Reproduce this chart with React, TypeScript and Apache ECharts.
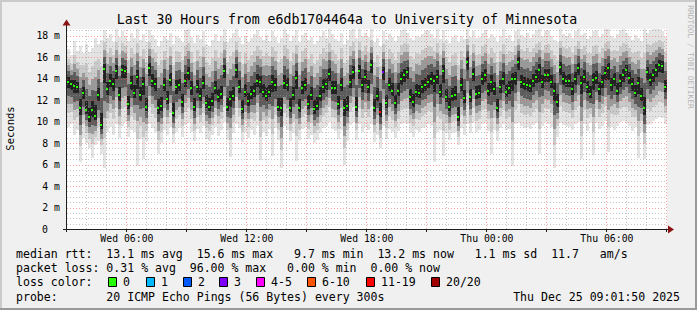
import React, { useEffect, useRef } from 'react';
import * as echarts from 'echarts';

// ---- time base (hours since Wed 00:00) ----
const START_HOUR = 3 + 1 / 60 + 50 / 3600; // Wed 03:01:50
const SPAN_HOURS = 30;
const STEP_HOURS = 0.15; // 9-minute columns
const Y_MAX = 18.63;

// ---- data (ms) ----
const medianRtt = [
  13.7, 13.5, 13.3, 13.2, 11.3, 12.7, 11.1, 10.4, 11.1, 10.5,
  12.5, 9.7, 14.9, 13.0, 13.8, 13.5, 14.7, 12.5, 14.8, 14.7,
  11.6, 13.6, 12.7, 14.2, 12.5, 13.5, 11.4, 15.0, 13.8, 13.5,
  11.3, 11.5, 13.4, 12.1, 13.9, 10.8, 13.2, 13.4, 11.8, 13.8,
  14.5, 13.1, 11.4, 13.2, 12.4, 13.6, 11.7, 11.4, 11.9, 13.1,
  12.3, 12.6, 14.7, 11.4, 12.1, 12.4, 14.8, 13.2, 11.2, 12.8,
  11.9, 12.6, 12.9, 13.8, 13.7, 12.8, 12.4, 12.8, 13.7, 13.4,
  11.4, 11.3, 13.6, 13.4, 11.3, 12.5, 14.1, 11.3, 13.1, 13.4,
  11.6, 12.5, 11.2, 11.5, 12.4, 13.2, 13.5, 14.4, 13.1, 13.1,
  11.6, 13.4, 11.3, 11.5, 13.7, 14.6, 11.4, 14.7, 13.4, 14.2,
  13.2, 15.3, 11.3, 12.4, 10.9, 14.6, 11.7, 13.4, 12.9, 11.7,
  12.9, 14.0, 14.3, 14.6, 12.3, 11.8, 12.8, 12.7, 13.2, 13.4,
  13.7, 14.0, 13.8, 14.2, 12.8, 14.7, 12.3, 11.4, 12.4, 12.5,
  10.4, 13.4, 12.2, 15.6, 12.3, 14.4, 12.6, 12.7, 14.0, 14.3,
  12.9, 13.7, 13.0, 11.3, 13.2, 14.0, 12.8, 13.1, 14.0, 14.0,
  15.6, 13.7, 13.5, 13.4, 13.3, 13.8, 14.2, 14.8, 13.7, 14.3,
  14.3, 13.7, 12.9, 11.8, 15.1, 14.0, 13.8, 13.8, 13.0, 14.0,
  15.0, 13.6, 14.2, 13.2, 12.6, 13.9, 14.1, 13.0, 13.7, 14.5,
  15.0, 13.4, 14.0, 12.9, 13.8, 14.3, 14.8, 14.1, 13.5, 12.7,
  13.6, 12.4, 11.3, 14.6, 13.9, 14.3, 14.8, 15.3, 15.2, 13.2,
];

const smokeLow = [
  9.5, 9.8, 8.8, 9.2, 6.2, 8.5, 8.0, 7.5, 6.6, 7.8,
  8.2, 7.0, 5.7, 9.0, 9.5, 8.8, 9.8, 8.5, 9.6, 10.0,
  8.6, 9.2, 9.0, 5.9, 8.4, 6.5, 8.2, 9.8, 9.4, 9.0,
  7.0, 8.0, 9.2, 8.8, 9.5, 8.0, 9.0, 9.4, 8.6, 9.7,
  9.9, 9.0, 8.2, 9.3, 8.9, 9.6, 8.4, 8.2, 8.8, 9.5,
  8.7, 9.2, 10.0, 8.3, 6.7, 8.9, 9.8, 9.4, 8.1, 9.0,
  8.5, 9.2, 8.8, 9.6, 6.4, 9.0, 8.7, 9.3, 6.8, 9.4,
  8.3, 5.7, 9.6, 9.2, 8.2, 8.9, 6.3, 8.3, 9.3, 9.5,
  8.4, 8.8, 8.0, 8.3, 8.9, 9.4, 9.6, 10.0, 9.3, 9.1,
  8.4, 9.2, 6.0, 8.2, 9.7, 10.0, 8.3, 9.8, 9.0, 9.5,
  9.2, 9.8, 8.1, 8.8, 7.5, 9.6, 8.4, 9.3, 9.0, 8.5,
  9.1, 9.8, 9.9, 9.8, 8.9, 8.6, 9.2, 9.0, 9.4, 9.5,
  9.8, 9.6, 6.2, 9.0, 9.2, 6.8, 8.9, 8.3, 8.9, 9.0,
  7.8, 9.4, 8.8, 9.8, 8.9, 9.9, 9.0, 9.2, 9.8, 9.9,
  9.1, 7.0, 9.2, 8.2, 9.4, 9.8, 9.2, 9.3, 5.9, 9.8,
  9.9, 9.6, 9.4, 9.5, 9.3, 9.7, 9.9, 7.0, 9.6, 10.0,
  9.8, 9.5, 5.7, 8.6, 9.9, 9.7, 9.6, 9.5, 9.2, 9.8,
  10.0, 6.5, 9.8, 9.1, 9.9, 6.9, 9.9, 9.3, 9.6, 10.1,
  7.2, 9.5, 9.2, 9.6, 10.0, 10.1, 9.9, 9.6, 9.1, 9.5,
  6.6, 9.0, 6.5, 9.7, 9.8, 10.1, 10.2, 10.4, 10.3, 9.8,
];

const smokeHigh = [
  16.8, 16.2, 17.5, 16.6, 17.0, 16.4, 17.2, 16.5, 16.9, 17.8,
  17.2, 17.6, 18.5, 17.8, 18.2, 17.4, 18.6, 17.9, 18.4, 18.0,
  17.5, 18.3, 17.8, 18.6, 17.6, 18.2, 17.4, 18.5, 18.1, 17.7,
  17.0, 17.5, 18.0, 17.6, 18.3, 17.2, 18.0, 17.8, 17.4, 18.5,
  18.6, 17.9, 17.3, 18.1, 17.7, 18.4, 17.2, 17.0, 17.6, 18.2,
  17.5, 18.0, 18.6, 17.4, 17.8, 18.3, 18.6, 17.9, 17.2, 18.0,
  17.4, 17.8, 18.2, 18.5, 17.9, 17.6, 18.1, 17.5, 18.4, 17.9,
  17.3, 17.8, 18.6, 18.2, 17.5, 18.0, 18.5, 17.4, 18.1, 18.3,
  17.6, 17.9, 17.2, 17.5, 18.0, 18.4, 17.8, 18.6, 18.2, 17.7,
  17.5, 18.3, 17.2, 17.6, 18.5, 18.6, 17.8, 18.6, 18.0, 18.3,
  17.9, 18.6, 17.4, 17.8, 17.0, 18.4, 17.6, 18.2, 17.9, 17.5,
  18.0, 18.5, 18.6, 18.3, 17.8, 17.6, 18.0, 17.9, 18.2, 18.4,
  18.5, 18.2, 17.8, 18.6, 17.7, 18.5, 17.6, 17.3, 17.9, 18.1,
  17.4, 18.0, 17.7, 18.6, 17.9, 18.4, 17.8, 17.9, 18.3, 18.5,
  17.8, 18.2, 17.9, 17.4, 18.0, 18.6, 17.8, 18.1, 17.5, 18.4,
  18.6, 18.1, 17.9, 18.3, 17.8, 18.2, 18.5, 18.6, 18.0, 18.4,
  18.5, 18.0, 17.6, 17.4, 18.6, 18.2, 18.0, 18.3, 17.8, 18.4,
  18.6, 18.1, 18.3, 17.7, 18.0, 18.4, 18.5, 17.9, 18.2, 18.6,
  18.6, 18.0, 17.8, 18.2, 18.5, 18.6, 18.3, 18.0, 17.6, 18.1,
  17.8, 17.5, 18.6, 18.3, 18.5, 18.6, 18.6, 18.6, 18.4, 17.9,
];

// loss events: column index -> loss colour level
const lossEventIndex = [104, 105];
const lossEventLevel = [6, 3];

const lossLabels = ['0', '1', '2', '3', '4-5', '6-10', '11-19', '20/20'];
const lossColors = ['#26ff00', '#00b8ff', '#0059ff', '#7e00ff', '#ff00ff', '#ff5500', '#ff0000', '#a10000'];

const timeLabelHours = [6, 12, 18, 24, 30];
const timeLabels = ['Wed 06:00', 'Wed 12:00', 'Wed 18:00', 'Thu 00:00', 'Thu 06:00'];
const majorGridHours = [6, 9, 12, 15, 18, 21, 24, 27, 30, 33];
const minorGridHours = [4, 5, 7, 8, 10, 11, 13, 14, 16, 17, 19, 20, 22, 23, 25, 26, 28, 29, 31, 32];
const majorGridMs = [2, 4, 6, 8, 10, 12, 14, 16, 18];
const minorGridMs = [0.5, 1, 1.5, 2.5, 3, 3.5, 4.5, 5, 5.5, 6.5, 7, 7.5, 8.5, 9, 9.5, 10.5, 11, 11.5, 12.5, 13, 13.5, 14.5, 15, 15.5, 16.5, 17, 17.5, 18.5];

const rttStats = ['13.1', '15.6', '9.7', '13.2', '1.1', '11.7'];
const lossStats = ['0.31', '96.00', '0.00', '0.00'];
const probeText = '20 ICMP Echo Pings (56 Bytes) every 300s';
const dateText = 'Thu Dec 25 09:01:50 2025';
const titleText = 'Last 30 Hours from e6db1704464a to University of Minnesota';

// ---- styling ----
const FONT = 'DejaVu Sans Mono';
const SMOKE_FRACTIONS = [1, 0.7, 0.5, 0.32, 0.14];
const SMOKE_SHADES = ['#e3e3e3', '#c9c9c9', '#9a9a9a', '#5c5c5c', '#222222'];
const CW = 6.95;
const LEG_X = 16;
const legendBoxX = [108, 146, 183, 219, 256, 307, 366, 431];
const MAJOR_GRID = 'rgba(255,70,70,0.5)';
const MINOR_GRID = 'rgba(150,150,150,0.55)';

function monoSegments(line: string, y: number) {
  const out: any[] = [];
  const re = /\S+(?: \S+)*/g;
  let m: RegExpExecArray | null;
  while ((m = re.exec(line))) {
    out.push({
      type: 'text',
      x: LEG_X + m.index * CW,
      y,
      style: { text: m[0], fontFamily: FONT, fontSize: 11.55, fill: '#000', verticalAlign: 'middle' },
    });
  }
  return out;
}

export default function App() {
  const ref = useRef<HTMLDivElement>(null);
  useEffect(() => {
    const chart = echarts.init(ref.current!, null, { renderer: 'svg' });

    const smokeData = medianRtt.map((m, i) => [START_HOUR + i * STEP_HOURS, smokeLow[i], m, smokeHigh[i]]);
    const dotData = medianRtt.map((m, i) => {
      const k = lossEventIndex.indexOf(i);
      return [START_HOUR + i * STEP_HOURS, m, k >= 0 ? lossEventLevel[k] : 0];
    });

    const legendLines = [
      `median rtt:  ${rttStats[0]} ms avg  ${rttStats[1]} ms max   ${rttStats[2]} ms min  ${rttStats[3]} ms now   ${rttStats[4]} ms sd  ${rttStats[5]}   am/s`,
      `packet loss: ${lossStats[0]} % avg  ${lossStats[1]} % max   ${lossStats[2]} % min  ${lossStats[3]} % now`,
      'loss color:',
      'probe:       ' + probeText,
    ];
    const legendY = [254.3, 268.3, 282.3, 296.7];

    const graphics: any[] = [
      // frame
      { type: 'rect', shape: { x: 0, y: 0, width: 697, height: 2 }, style: { fill: '#cbcbcb' }, z: 100 },
      { type: 'rect', shape: { x: 0, y: 0, width: 2, height: 310 }, style: { fill: '#cbcbcb' }, z: 100 },
      { type: 'rect', shape: { x: 0, y: 308, width: 697, height: 2 }, style: { fill: '#999999' }, z: 100 },
      { type: 'rect', shape: { x: 695, y: 0, width: 2, height: 310 }, style: { fill: '#999999' }, z: 100 },
      // title
      { type: 'text', x: 347, y: 19, style: { text: titleText, fontFamily: FONT, fontSize: 13.2, fill: '#000', align: 'center', verticalAlign: 'middle' } },
      // unit
      { type: 'text', x: 10, y: 128.5, rotation: Math.PI / 2, style: { text: 'Seconds', fontFamily: FONT, fontSize: 10.5, fill: '#000', align: 'center', verticalAlign: 'middle' } },
      // watermark
      { type: 'text', x: 690, y: 57, rotation: -Math.PI / 2, style: { text: 'RRDTOOL / TOBI OETIKER', fontFamily: FONT, fontSize: 7.8, fill: '#b4b4b4', align: 'center', verticalAlign: 'middle' } },
      // axes
      { type: 'line', shape: { x1: 63, y1: 229.5, x2: 669, y2: 229.5 }, style: { stroke: '#1f1f1f', lineWidth: 1 }, z: 50 },
      { type: 'line', shape: { x1: 66.5, y1: 232, x2: 66.5, y2: 24 }, style: { stroke: '#1f1f1f', lineWidth: 1 }, z: 50 },
      { type: 'polygon', shape: { points: [[668, 225.5], [674, 229.5], [668, 233.5]] }, style: { fill: '#8a1414' }, z: 51 },
      { type: 'polygon', shape: { points: [[66.5, 19.5], [62.5, 25.5], [70.5, 25.5]] }, style: { fill: '#8a1414' }, z: 51 },
      { type: 'text', x: 680, y: legendY[3], style: { text: dateText, fontFamily: FONT, fontSize: 11.55, fill: '#000', align: 'right', verticalAlign: 'middle' } },
    ];
    legendLines.forEach((l, i) => graphics.push(...monoSegments(l, legendY[i])));
    lossLabels.forEach((lab, i) => {
      graphics.push({ type: 'rect', shape: { x: legendBoxX[i] + 0.5, y: 277.5, width: 8, height: 9 }, style: { fill: lossColors[i], stroke: '#000', lineWidth: 1 } });
      graphics.push({ type: 'text', x: legendBoxX[i] + 15, y: legendY[2], style: { text: lab, fontFamily: FONT, fontSize: 11.55, fill: '#000', verticalAlign: 'middle' } });
    });

    const vLine = (color: string) => (params: any, api: any) => {
      const h = api.value(0);
      const x = Math.round(api.coord([h, 0])[0]) + 0.5;
      const y0 = api.coord([h, 0])[1];
      const y1 = api.coord([h, Y_MAX])[1];
      return { type: 'line', shape: { x1: x, y1: y0, x2: x, y2: y1 }, style: { stroke: color, lineWidth: 1, lineDash: [1, 2] } };
    };
    const hLine = (color: string) => (params: any, api: any) => {
      const v = api.value(1);
      const y = Math.round(api.coord([START_HOUR, v])[1]) + 0.5;
      const x0 = api.coord([START_HOUR, v])[0];
      const x1 = api.coord([START_HOUR + SPAN_HOURS, v])[0];
      return { type: 'line', shape: { x1: x0, y1: y, x2: x1, y2: y }, style: { stroke: color, lineWidth: 1, lineDash: [1, 2] } };
    };

    const option: any = {
      animation: false,
      backgroundColor: '#f0f0f0',
      grid: { left: 67, top: 29, width: 600, height: 200, show: true, backgroundColor: '#ffffff', borderWidth: 0 },
      xAxis: { type: 'value', min: START_HOUR, max: START_HOUR + SPAN_HOURS, show: false },
      yAxis: {
        type: 'value', min: 0, max: Y_MAX, interval: 2,
        axisLine: { show: false }, axisTick: { show: false }, splitLine: { show: false },
        axisLabel: {
          showMaxLabel: false, margin: 7, color: '#000', fontFamily: FONT, fontSize: 9.8,
          formatter: (v: number) => (v === 0 ? '{z|0}' : `${v} m`),
          rich: { z: { padding: [0, 12, 0, 0], fontFamily: FONT, fontSize: 9.8, color: '#000' } },
        },
      },
      graphic: { elements: graphics },
      series: [
        {
          type: 'custom', z: 2, clip: true, silent: true,
          data: smokeData,
          renderItem: (params: any, api: any) => {
            const t0 = api.value(0), lo = api.value(1), m = api.value(2), hi = api.value(3);
            const x0 = Math.round(api.coord([t0, 0])[0]);
            const x1 = Math.round(api.coord([t0 + STEP_HOURS, 0])[0]);
            const children = SMOKE_FRACTIONS.map((f, k) => {
              const yt = Math.round(api.coord([t0, m + f * (hi - m)])[1]);
              const yb = Math.round(api.coord([t0, m - f * (m - lo)])[1]);
              return { type: 'rect', shape: { x: x0, y: yt, width: x1 - x0, height: Math.max(1, yb - yt) }, style: { fill: SMOKE_SHADES[k] } };
            });
            return { type: 'group', children };
          },
        },
        { type: 'custom', z: 3, silent: true, data: minorGridHours.map((h) => [h, 0]), renderItem: vLine(MINOR_GRID) },
        { type: 'custom', z: 3, silent: true, data: minorGridMs.map((v) => [START_HOUR, v]), renderItem: hLine(MINOR_GRID) },
        { type: 'custom', z: 3, silent: true, data: majorGridHours.map((h) => [h, 0]), renderItem: vLine(MAJOR_GRID) },
        { type: 'custom', z: 3, silent: true, data: majorGridMs.map((v) => [START_HOUR, v]), renderItem: hLine(MAJOR_GRID) },
        {
          type: 'custom', z: 4, silent: true, clip: false,
          data: majorGridHours.map((h) => [h, 0]),
          renderItem: (params: any, api: any) => {
            const h = api.value(0);
            const x = Math.round(api.coord([h, 0])[0]) + 0.5;
            const y = api.coord([h, 0])[1];
            return { type: 'line', shape: { x1: x, y1: y, x2: x, y2: y + 3 }, style: { stroke: '#1f1f1f', lineWidth: 1 } };
          },
        },
        {
          type: 'custom', z: 5, silent: true, clip: true,
          data: dotData,
          renderItem: (params: any, api: any) => {
            const t0 = api.value(0), m = api.value(1), lvl = api.value(2);
            const x0 = Math.round(api.coord([t0, 0])[0]);
            const x1 = Math.round(api.coord([t0 + STEP_HOURS, 0])[0]);
            const y = Math.round(api.coord([t0, m])[1]);
            return { type: 'rect', shape: { x: x0, y: y - 1, width: Math.max(2, x1 - x0 - 1), height: 2 }, style: { fill: lossColors[lvl] } };
          },
        },
        {
          type: 'custom', z: 5, silent: true, clip: false,
          data: timeLabelHours.map((h) => [h, 0]),
          renderItem: (params: any, api: any) => {
            const h = api.value(0);
            const p = api.coord([h, 0]);
            return { type: 'text', x: p[0] + 0.5, y: p[1] + 9, style: { text: timeLabels[params.dataIndex], fontFamily: FONT, fontSize: 9.8, fill: '#000', align: 'center', verticalAlign: 'middle' } };
          },
        },
      ],
    };
    chart.setOption(option);
    return () => chart.dispose();
  }, []);
  return <div ref={ref} style={{ position: 'absolute', left: 0, top: 0, width: 697, height: 310 }} />;
}
